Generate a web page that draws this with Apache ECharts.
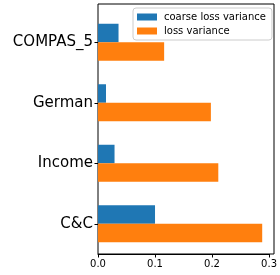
<!DOCTYPE html>
<html>
<head>
<meta charset="utf-8">
<script src="https://cdn.jsdelivr.net/npm/echarts@6/dist/echarts.min.js"></script>
<style>
  html, body { margin: 0; padding: 0; background: #fff; }
  #chart { width: 280px; height: 275px; }
</style>
</head>
<body>
<div id="chart"></div>
<script type="text/javascript">
  // datasets, top to bottom
  var datasets = ['COMPAS_5', 'German', 'Income', 'C&C'];
  var coarseLossVariance = [0.036, 0.014, 0.029, 0.1];
  var lossVariance = [0.116, 0.198, 0.211, 0.288];
  var xTicks = [0, 0.1, 0.2, 0.3];

  var myChart = echarts.init(document.getElementById('chart'), null, { renderer: 'canvas' });

  var font = 'DejaVu Sans';
  var option = {
    animation: false,
    grid: [
      // bars live here (bands sized like the matplotlib ticks)
      { left: 98, right: 6, top: 12, bottom: 21, show: false },
      // just the box around the axes
      { left: 98, right: 6, top: 4, bottom: 21, show: true, borderColor: '#000', borderWidth: 1, backgroundColor: 'transparent' }
    ],
    legend: {
      orient: 'vertical',
      left: 133,
      top: 8,
      data: ['coarse loss variance', 'loss variance'],
      itemWidth: 20,
      itemHeight: 7,
      itemGap: 4,
      padding: [4, 6, 4, 4],
      borderColor: '#ccc',
      borderWidth: 1,
      borderRadius: 3,
      backgroundColor: 'rgba(255,255,255,0.8)',
      icon: 'rect',
      textStyle: { fontFamily: font, fontSize: 10, color: '#000', padding: [0, 0, 0, 2] }
    },
    xAxis: [
      {
        type: 'value',
        gridIndex: 0,
        min: xTicks[0],
        max: xTicks[xTicks.length - 1],
        interval: 0.1,
        splitLine: { show: false },
        axisLine: { show: true, lineStyle: { color: '#000', width: 1 } },
        axisTick: { show: true, length: 3.5, lineStyle: { color: '#000' } },
        axisLabel: {
          fontFamily: font,
          fontSize: 10,
          color: '#000',
          margin: 5,
          formatter: function (v) { return v.toFixed(1); }
        }
      },
      { type: 'value', gridIndex: 1, show: false, min: 0, max: 1 }
    ],
    yAxis: [
      {
        type: 'category',
        gridIndex: 0,
        inverse: true,
        data: datasets,
        axisLine: { show: false },
        axisTick: { show: true, alignWithLabel: true, length: 3.5, lineStyle: { color: '#000' } },
        axisLabel: { fontFamily: font, fontSize: 15, color: '#000', margin: 5 }
      },
      { type: 'value', gridIndex: 1, show: false, min: 0, max: 1 }
    ],
    series: [
      {
        name: 'coarse loss variance',
        type: 'bar',
        data: coarseLossVariance,
        barWidth: 18.5,
        barGap: '0%',
        itemStyle: { color: '#1f77b4' }
      },
      {
        name: 'loss variance',
        type: 'bar',
        data: lossVariance,
        barWidth: 18.5,
        barGap: '0%',
        itemStyle: { color: '#ff7f0e' }
      }
    ]
  };
  myChart.setOption(option);
</script>
</body>
</html>
